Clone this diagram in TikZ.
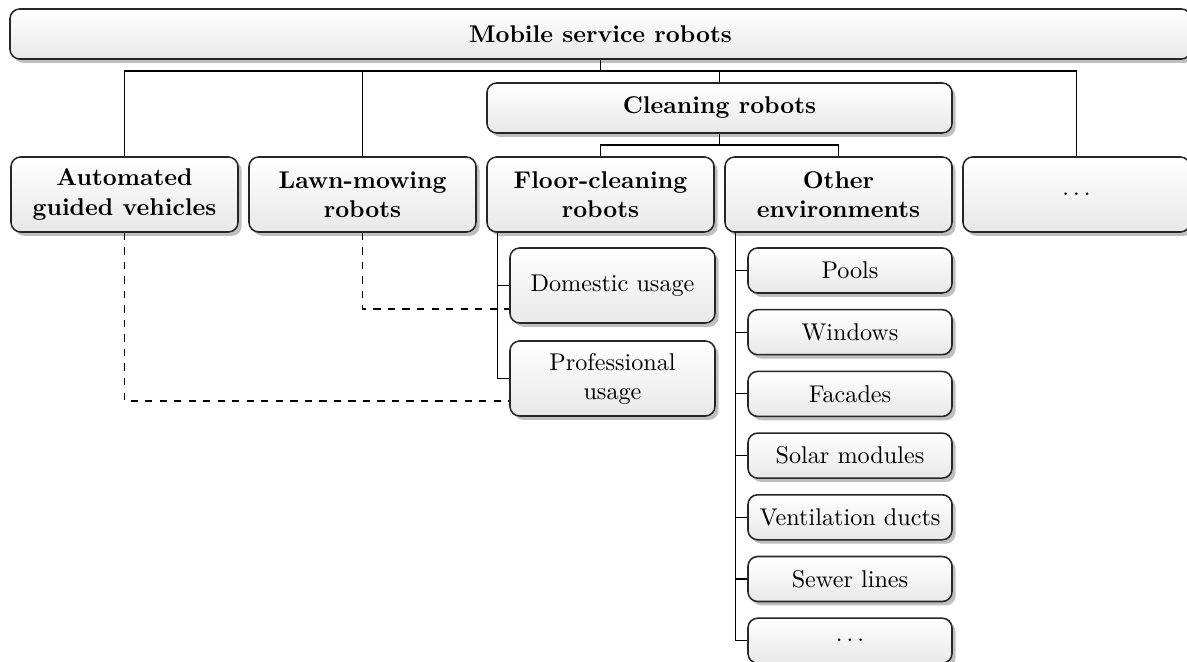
\documentclass[tikz,border=0pt]{standalone}
\usetikzlibrary{shadows,calc}

% one unit = one pixel of the layout grid
\def\pxu{0.4132pt}

\tikzset{
  x=0.4132pt, y=-0.4132pt,
  box/.style={
    rounded corners=4pt, draw=black!85, line width=0.65pt,
    top color=white, middle color=white, bottom color=black!9,
    drop shadow={shadow xshift=1.5pt, shadow yshift=-1.6pt, fill=black!25, opacity=1},
    inner sep=0pt, align=center, font=\normalsize
  },
  headbox/.style={box, font=\bfseries},
  catbox/.style={box, font=\bfseries, minimum width=227*\pxu, minimum height=75*\pxu},
  usebox/.style={box, minimum width=205*\pxu, minimum height=75*\pxu},
  envbox/.style={box, minimum width=204*\pxu, minimum height=45*\pxu},
  link/.style={draw=black, line width=0.45pt},
  assoc/.style={draw=black, line width=0.45pt, dashed},
}

\begin{document}
\begin{tikzpicture}
\useasboundingbox (0,0) rectangle (1187,662);
\clip (0,0) rectangle (1187,662);

% root and the cleaning group
\node[headbox, minimum width=1181*\pxu, minimum height=50*\pxu] (root) at (600.5,34) {Mobile service robots};
\node[headbox, minimum width=465*\pxu, minimum height=50*\pxu] (clean) at (719.5,108) {Cleaning robots};

% robot categories
\node[catbox] (agv)   at (124.5,194.5)  {Automated\\guided vehicles};
\node[catbox] (lawn)  at (362.5,194.5)  {Lawn-mowing\\robots};
\node[catbox] (floor) at (600.5,194.5)  {Floor-cleaning\\robots};
\node[catbox] (other) at (838.5,194.5)  {Other\\environments};
\node[catbox, font=\normalfont] (more) at (1076.5,194.5) {$\ldots$};

% floor-cleaning usage
\node[usebox] (dom)  at (612.5,285.5) {Domestic usage};
\node[usebox] (prof) at (612.5,378.5) {Professional\\usage};

% other environments
\node[envbox] (pools) at (850,270.5) {Pools};
\node[envbox] (win)   at (850,332.2) {Windows};
\node[envbox] (fac)   at (850,393.9) {Facades};
\node[envbox] (solar) at (850,455.6) {Solar modules};
\node[envbox] (vent)  at (850,517.3) {Ventilation ducts};
\node[envbox] (sewer) at (850,579)   {Sewer lines};
\node[envbox] (envmore) at (850,640.7) {$\ldots$};

% tree connectors
\coordinate (bus) at (600.5,71);
\coordinate (cbus) at (719.5,145);
\draw[link] (root.south) -- (bus);
\draw[link] (agv.north) |- (bus);
\draw[link] (lawn.north) |- (bus);
\draw[link] (more.north) |- (bus);
\draw[link] (clean.north) |- (bus);
\draw[link] (clean.south) -- (cbus);
\draw[link] (floor.north) |- (cbus);
\draw[link] (other.north) |- (cbus);

\coordinate (ftrunk) at ($(floor.south west)+(11,0)$);
\draw[link] (ftrunk) |- (dom.west);
\draw[link] (ftrunk) |- (prof.west);

\coordinate (otrunk) at ($(other.south west)+(11,0)$);
\foreach \n in {pools,win,fac,solar,vent,sewer,envmore}
  \draw[link] (otrunk) |- (\n.west);

% shared usage links
\coordinate (domin)  at ($(dom.west)+(0,23.5)$);
\coordinate (profin) at ($(prof.west)+(0,22.5)$);
\draw[assoc] (lawn.south) |- (domin);
\draw[assoc] (agv.south) |- (profin);
\end{tikzpicture}
\end{document}
